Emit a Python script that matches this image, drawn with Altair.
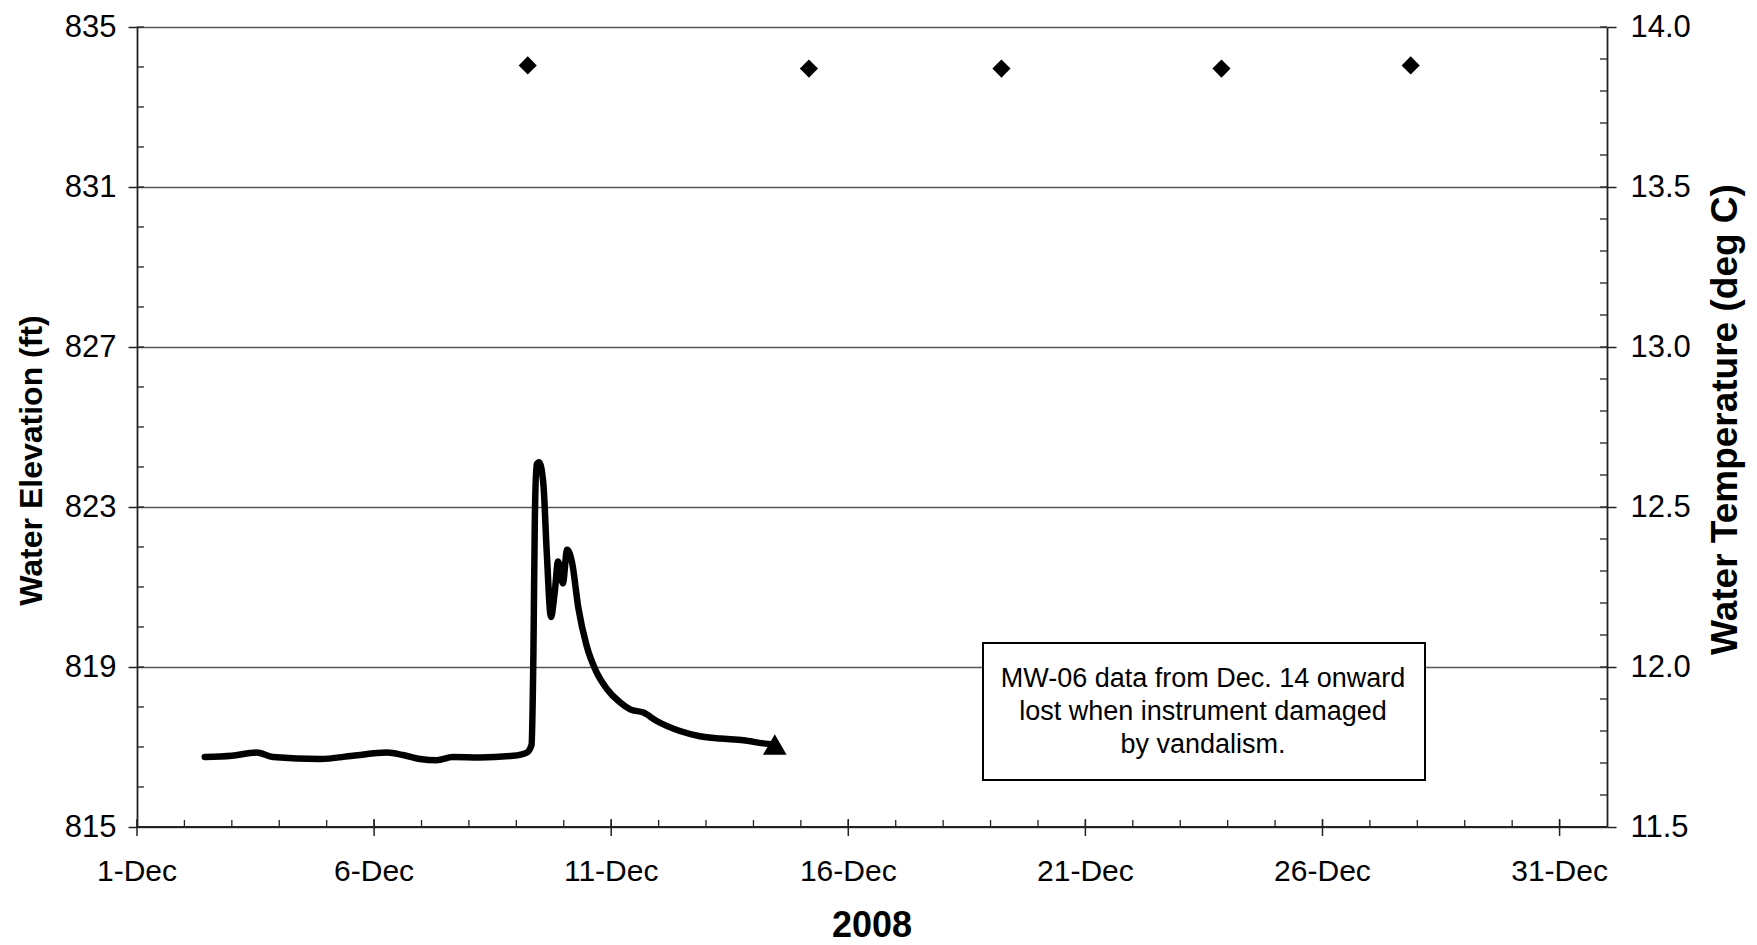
import altair as alt
import pandas as pd

# ---------------- data ----------------
# water elevation series: day of December 2008 (fractional) and elevation (ft)
elev_day = [2.43, 3.00, 3.52, 3.87, 4.86, 5.55, 6.27, 6.61, 6.97, 7.32, 7.66,
            8.23, 8.93, 9.22, 9.32, 9.36, 9.39, 9.43, 9.48, 9.57, 9.64, 9.73,
            9.81, 9.88, 9.98, 10.07, 10.17, 10.31, 10.48, 10.69, 10.91, 11.19,
            11.40, 11.68, 11.96, 12.45, 12.87, 13.29, 13.79, 14.21, 14.45]
elev_ft = [816.75, 816.78, 816.86, 816.75, 816.70, 816.78, 816.86, 816.80, 816.70,
           816.67, 816.75, 816.74, 816.78, 816.86, 817.05, 819.37, 822.73, 824.07,
           824.12, 823.57, 821.89, 820.25, 820.88, 821.64, 821.09, 821.93, 821.64,
           820.46, 819.54, 818.87, 818.45, 818.11, 817.94, 817.86, 817.65, 817.40,
           817.27, 817.21, 817.17, 817.09, 817.06]

# water temperature readings: day of December 2008 and deg C
temp_day = [9.24, 15.17, 19.23, 23.87, 27.86]
temp_c = [13.88, 13.87, 13.87, 13.87, 13.88]

# axis ticks and texts
x_domain = [1, 32]                      # 1-Dec .. 1-Jan
x_tick_days = [1, 6, 11, 16, 21, 26, 31]
x_tick_labels = ["1-Dec", "6-Dec", "11-Dec", "16-Dec", "21-Dec", "26-Dec", "31-Dec"]
x_minor_days = list(range(1, 32))
elev_domain = [815, 835]
elev_ticks = [815, 819, 823, 827, 831, 835]
elev_minor = list(range(815, 836))
temp_domain = [11.5, 14.0]
temp_ticks = [11.5, 12.0, 12.5, 13.0, 13.5, 14.0]
temp_minor = [round(11.5 + 0.1 * i, 1) for i in range(26)]
x_title = "2008"
elev_title = "Water Elevation (ft)"
temp_title = "Water Temperature (deg C)"
note_lines = ["MW-06 data from Dec. 14 onward",
              "lost when instrument damaged",
              "by vandalism."]

# ---------------- chart ----------------
FONT = "Liberation Sans"
W, H = 1470, 800
AX = "#222222"

elev_df = pd.DataFrame({"day": elev_day, "elev": elev_ft})
end_df = elev_df.tail(1)
temp_df = pd.DataFrame({"day": temp_day, "temp": temp_c})
note_df = pd.DataFrame({"text": ["\n".join(note_lines)]})
xmajor_df = pd.DataFrame({"day": x_tick_days, "label": x_tick_labels})
xminor_df = pd.DataFrame({"day": x_minor_days})
lminor_df = pd.DataFrame({"elev": elev_minor})
rminor_df = pd.DataFrame({"temp": temp_minor})
title_df = pd.DataFrame({"text": [x_title]})

x_scale = alt.Scale(domain=x_domain, nice=False, zero=False)
elev_scale = alt.Scale(domain=elev_domain, nice=False, zero=False)
temp_scale = alt.Scale(domain=temp_domain, nice=False, zero=False)

elev_axis = alt.Axis(
    orient="left", values=elev_ticks, format="d", grid=True,
    gridColor="#555555", gridWidth=1.4,
    tickSize=9, tickWidth=1.5, tickColor=AX, domainColor=AX, domainWidth=1.8,
    labelFont=FONT, labelFontSize=31, labelColor="black", labelPadding=12,
    labelFlush=False, labelOverlap=False,
    title=elev_title, titleFont=FONT, titleFontSize=32, titleFontWeight="bold",
    titleColor="black", titleAngle=270, titleX=-106, titleY=433,
    titleBaseline="middle", titleAlign="center")

temp_axis = alt.Axis(
    orient="right", values=temp_ticks, format=".1f", grid=False,
    tickSize=9, tickWidth=1.5, tickColor=AX, domainColor=AX, domainWidth=1.8,
    labelFont=FONT, labelFontSize=31, labelColor="black", labelPadding=14,
    labelFlush=False, labelOverlap=False,
    title=temp_title, titleFont=FONT, titleFontSize=37, titleFontWeight="bold",
    titleColor="black", titleAngle=270, titleX=118, titleY=392,
    titleBaseline="middle", titleAlign="center")

X = lambda: alt.X("day:Q", scale=x_scale, axis=None)

line = alt.Chart(elev_df).mark_line(
    color="black", strokeWidth=6.5, interpolate="monotone",
    strokeCap="round", strokeJoin="round").encode(
    x=X(), y=alt.Y("elev:Q", scale=elev_scale, axis=elev_axis))

tri = alt.Chart(end_df).mark_point(
    shape="triangle-up", size=560, filled=True, color="black", opacity=1).encode(
    x=X(), y=alt.Y("elev:Q", scale=elev_scale, axis=None))

dia = alt.Chart(temp_df).mark_point(
    shape="diamond", size=330, filled=True, color="black", opacity=1).encode(
    x=X(), y=alt.Y("temp:Q", scale=temp_scale, axis=temp_axis))

box = alt.Chart(note_df).mark_rect(fill="white", stroke="black", strokeWidth=2).encode(
    x=alt.value(846), x2=alt.value(1288), y=alt.value(616), y2=alt.value(753))

note = alt.Chart(note_df).mark_text(
    font=FONT, fontSize=27, lineBreak="\n", lineHeight=33, align="center",
    baseline="middle", color="black").encode(
    x=alt.value(1066), y=alt.value(652), text="text:N")

# bottom (date) axis drawn through the x scale
xdomain = alt.Chart(title_df).mark_rule(color=AX, strokeWidth=1.8).encode(
    x=alt.value(0), x2=alt.value(W), y=alt.value(H))

xmajor = alt.Chart(xmajor_df).mark_rule(color=AX, strokeWidth=1.5).encode(
    x=X(), y=alt.value(H - 8), y2=alt.value(H + 9))

xminor = alt.Chart(xminor_df).mark_rule(color=AX, strokeWidth=1.3).encode(
    x=X(), y=alt.value(H), y2=alt.value(H - 7))

xlabels = alt.Chart(xmajor_df).mark_text(
    font=FONT, fontSize=30, color="black", align="center", baseline="middle").encode(
    x=X(), y=alt.value(H + 45), text="label:N")

xtitle = alt.Chart(title_df).mark_text(
    font=FONT, fontSize=36, fontWeight="bold", color="black",
    align="center", baseline="middle").encode(
    x=alt.value(W / 2), y=alt.value(H + 99), text="text:N")

lminor = alt.Chart(lminor_df).mark_rule(color=AX, strokeWidth=1.3).encode(
    x=alt.value(0), x2=alt.value(7),
    y=alt.Y("elev:Q", scale=elev_scale, axis=None))

rminor = alt.Chart(rminor_df).mark_rule(color=AX, strokeWidth=1.3).encode(
    x=alt.value(W), x2=alt.value(W - 7),
    y=alt.Y("temp:Q", scale=temp_scale, axis=None))

chart = alt.layer(
    line, tri, dia, box, note, xdomain, xmajor, xminor, xlabels, xtitle, lminor, rminor
).resolve_scale(
    y="independent"
).properties(
    width=W, height=H,
    autosize=alt.AutoSizeParams(type="none"),
    padding={"left": 137, "top": 27, "right": 150, "bottom": 118},
    background="white",
).configure_view(stroke="transparent")

chart.save("out.html", embed_options={"renderer": "svg", "actions": False})
